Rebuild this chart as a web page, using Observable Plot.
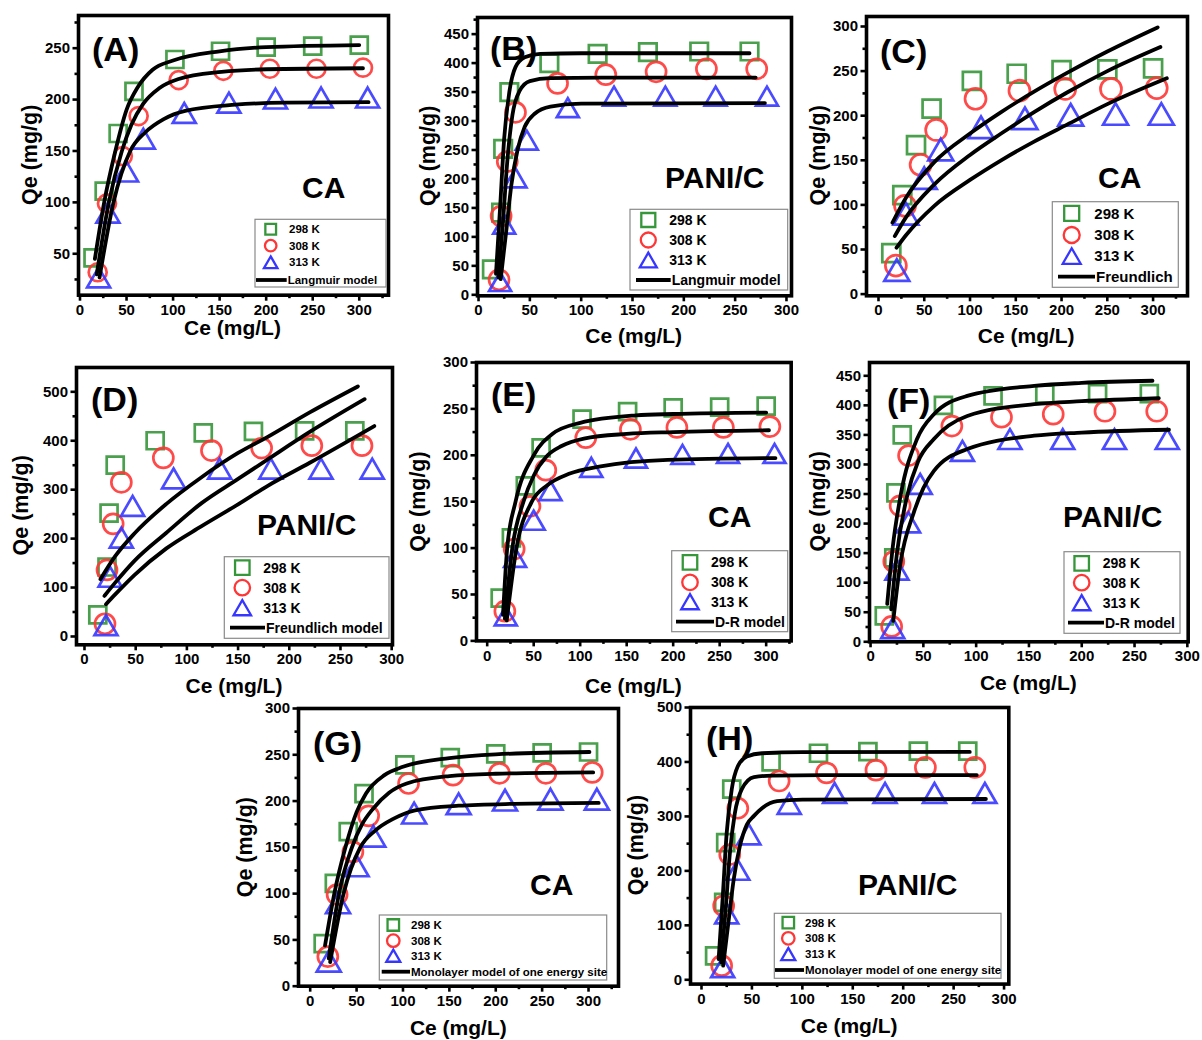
<!DOCTYPE html>
<html><head><meta charset="utf-8">
<script src="https://cdn.jsdelivr.net/npm/d3@7"></script>
<script src="https://cdn.jsdelivr.net/npm/@observablehq/plot@0.6"></script>
<style>
body{margin:0;background:#fff;}
#root{position:relative;width:1202px;height:1040px;overflow:hidden;background:#fff;}
#root svg{position:absolute;background:none !important;max-width:none !important;}
</style></head><body><div id="root"></div>
<script>
const temps = ["298 K", "308 K", "313 K"];
const tempColors = ["#36963a", "#ff3636", "#3636ff"];

// ---- experimental data: CA ----
const ceCA298 = [14, 26, 41, 58, 102, 151, 200, 250, 300];
const qeCA298 = [46, 111, 167, 208, 239, 247, 251, 252, 253];
const ceCA308 = [19, 29, 46, 63, 106, 154, 204, 254, 304];
const qeCA308 = [32, 99, 145, 184, 219, 228, 230, 230, 231];
const ceCA313 = [20, 30, 50, 68, 112, 160, 210, 259, 309];
const qeCA313 = [27, 90, 130, 162, 187, 197, 201, 202, 202];
// ---- experimental data: PANI/C ----
const cePC298 = [13, 22, 24, 30, 69, 116, 165, 215, 264];
const qePC298 = [44, 142, 252, 350, 400, 416, 419, 420, 420];
const cePC308 = [20, 22, 28, 36, 77, 124, 173, 222, 271];
const qePC308 = [26, 136, 230, 315, 365, 380, 385, 390, 390];
const cePC313 = [21, 25, 36, 47, 87, 132, 182, 231, 281];
const qePC313 = [23, 122, 202, 267, 323, 343, 343, 343, 343];

// ---- model curves ([Ce, Qe]) ----
const langCA298 = [[16,45],[26,100],[38,150],[50,190],[62,212],[78,229],[100,238],[150,247],[200,251],[300,253]];
const langCA308 = [[18,30],[31,100],[45,150],[55,175],[68,196],[85,211],[106,220],[152,227],[200,229.5],[304,230.5]];
const langCA313 = [[21,27],[36,100],[54,150],[70,168],[90,181],[113,189],[167,195],[220,197],[310,197.5]];

const langPC298 = [[17,36],[21,150],[25,270],[30,350],[36,393],[45,410],[60,416],[100,417],[264,417]];
const langPC308 = [[19.4,30],[24,130],[28,230],[33,310],[40,352],[50,369],[70,374],[120,375],[270,375]];
const langPC313 = [[21.6,27],[27,110],[32,190],[38,250],[45,290],[55,313],[70,325],[100,330],[279,331]];

const freuCA298 = [[15.3,80],[30,108],[61,148],[100,180],[134,204],[170,227],[206,248],[250,272],[305,299]];
const freuCA308 = [[17.8,65],[30,86],[61,123],[100,156],[134,180],[170,204],[206,226],[250,250],[308,277]];
const freuCA313 = [[19.7,52],[30,66],[61,99],[100,128],[134,150],[170,171],[206,190],[250,213],[315,242]];

const freuPC298 = [[15.6,117],[30,164],[49,211],[80,271],[114,325],[150,375],[179,408],[220,458],[267,511]];
const freuPC308 = [[19.5,83],[30,110],[49,155],[80,212],[114,272],[150,322],[179,362],[220,418],[273.6,485]];
const freuPC313 = [[21,66],[30,86],[49,126],[80,180],[114,225],[150,270],[179,308],[220,355],[283,430]];

const drCA298 = [[17,28],[21.5,100],[30.5,150],[50,200],[70,223],[100,235],[160,243],[200,244.5],[300,246]];
const drCA308 = [[19,24],[27,100],[39,150],[50,178],[64,199],[80,210],[104,218],[150,223],[200,225],[303,227]];
const drCA313 = [[21,22],[31.5,100],[48,150],[65,168],[88,180],[122,188],[194,195],[310,197]];

const drPC298 = [[15.8,64],[21,160],[28.4,247],[44,343],[60,385],[91.6,416],[155,433],[200,438],[267,441.6]];
const drPC308 = [[19.6,55],[25,150],[34.7,247],[45,305],[60,343],[91.6,382],[155,402],[200,407],[273,412]];
const drPC313 = [[21.5,35.5],[28,130],[41,219],[50,260],[60,289],[91.6,326],[155,348.6],[200,354],[282.6,358.7]];

const monoCA298 = [[16,44],[26,100],[38,150],[50,188],[60,208],[80,228],[100,237],[150,246.5],[200,250.5],[301,253]];
const monoCA308 = [[20,30],[31,100],[45,150],[56,175],[68,192],[85,209],[104,219],[150,227],[200,229.5],[305,231]];
const monoCA313 = [[21.5,26],[36,100],[54,150],[70,168],[90,181],[113,190],[160,195],[220,197],[311,198]];

const monoPC298 = [[17,38],[21,150],[25,270],[30,350],[36,392],[45,410],[60,416],[100,418],[266,418.5]];
const monoPC308 = [[19.5,32],[24,130],[28,230],[33,305],[40,350],[52,372],[70,375],[120,376],[273,376]];
const monoPC313 = [[21.5,26],[27,110],[32,185],[38,245],[45,285],[52,301],[60,315],[75,328],[100,331],[282,332]];

// ---- tick values ----
const xMajor = [0, 50, 100, 150, 200, 250, 300];
const xMinor = [25, 75, 125, 175, 225, 275, 325];
const yMajor50 = [0, 50, 100, 150, 200, 250, 300, 350, 400, 450];
const yMinor50 = [25, 75, 125, 175, 225, 275, 325, 375, 425, 475];
const yMajor100 = [0, 100, 200, 300, 400, 500];
const yMinor100 = [50, 150, 250, 350, 450];

const caPoints = [[ceCA298, qeCA298], [ceCA308, qeCA308], [ceCA313, qeCA313]];
const pcPoints = [[cePC298, qePC298], [cePC308, qePC308], [cePC313, qePC313]];

const panels = [
  {tag:"(A)", sample:"CA", model:"Langmuir model", pts:caPoints, curves:[langCA298,langCA308,langCA313],
   L:77.5,R:387.5,T:15,B:294.7, xd:[-1.6,331.4], yd:[9.7,281.8], yt:yMajor50, ym:yMinor50,
   tagPos:[92,61], samplePos:[302,198], xTitleY:335, yTitleX:37,
   lg:{box:[255,219.3,386,287], rows:[229.3,245.7,262.3,280], sx:270.7, tx:289, line:[256,286.7], fs:11.5, sym:[10.7,11.5,13.5]},
   mk:[17,18,23]},
  {tag:"(B)", sample:"PANI/C", model:"Langmuir model", pts:pcPoints, curves:[langPC298,langPC308,langPC313],
   L:476.7,R:790.7,T:16.7,B:295, xd:[-1,304.9], yd:[-1.7,478.7], yt:yMajor50, ym:yMinor50,
   tagPos:[490,60], samplePos:[665,188], xTitleY:343, yTitleX:435,
   lg:{box:[630,209.3,787.7,290], rows:[220,240,260,280], sx:648.3, tx:669.3, line:[636,670.7], fs:14, sym:[14,15,17]},
   mk:[17.5,20,22]},
  {tag:"(C)", sample:"CA", model:"Freundlich", pts:caPoints, curves:[freuCA298,freuCA308,freuCA313],
   L:865.7,R:1186.7,T:15.7,B:295, xd:[-13.1,337.6], yd:[-1.9,311.2], yt:yMajor50, ym:yMinor50,
   tagPos:[880,63], samplePos:[1098,188], xTitleY:343, yTitleX:825,
   lg:{box:[1052.3,201.7,1178.3,287.3], rows:[213.3,235,256,276.7], sx:1071.7, tx:1094.3, line:[1058,1095], fs:15, sym:[15,16,18]},
   mk:[18,21,25]},
  {tag:"(D)", sample:"PANI/C", model:"Freundlich model", pts:pcPoints, curves:[freuPC298,freuPC308,freuPC313],
   L:76,R:392,T:366.7,B:644, xd:[-7.8,300.8], yd:[-17,549.7], yt:yMajor100, ym:yMinor100,
   tagPos:[91,411], samplePos:[257,535], xTitleY:693, yTitleX:28,
   lg:{box:[224.3,556.7,389,638.3], rows:[567.7,587.7,607.7,627.7], sx:242.3, tx:263.3, line:[230,265], fs:14, sym:[14.5,15.5,17.5]},
   mk:[17,20,23]},
  {tag:"(E)", sample:"CA", model:"D-R model", pts:caPoints, curves:[drCA298,drCA308,drCA313],
   L:476,R:790.7,T:362.3,B:640.7, xd:[-11.5,326.9], yd:[0,300], yt:yMajor50, ym:yMinor50,
   tagPos:[491,406], samplePos:[708,527], xTitleY:693, yTitleX:425,
   lg:{box:[671.7,550.7,787.7,631.7], rows:[562.3,582.3,601.7,621.7], sx:690, tx:711, line:[676,714], fs:14, sym:[14.5,15.5,17.5]},
   mk:[17,20,22]},
  {tag:"(F)", sample:"PANI/C", model:"D-R model", pts:pcPoints, curves:[drPC298,drPC308,drPC313],
   L:869,R:1187.7,T:361.7,B:641, xd:[-1,300.8], yd:[0,472.5], yt:yMajor50, ym:yMinor50,
   tagPos:[887,412], samplePos:[1063,527], xTitleY:690, yTitleX:825,
   lg:{box:[1064,551.7,1180,633.3], rows:[563.3,582.7,602.7,622.7], sx:1081.7, tx:1102.7, line:[1068,1104], fs:14, sym:[14.5,15.5,17.5]},
   mk:[17,20,23]},
  {tag:"(G)", sample:"CA", model:"Monolayer model of one energy site", pts:caPoints, curves:[monoCA298,monoCA308,monoCA313],
   L:298.3,R:618.3,T:708.3,B:986, xd:[-12.6,332.3], yd:[0,300], yt:yMajor50, ym:yMinor50,
   tagPos:[313,755], samplePos:[530,895], xTitleY:1035, yTitleX:252,
   lg:{box:[379.3,915,606.7,980], rows:[925,940.7,955.7,971.7], sx:393.3, tx:411, line:[381.7,410], fs:11.5, sym:[11.5,12.5,14]},
   mk:[17,20,24]},
  {tag:"(H)", sample:"PANI/C", model:"Monolayer model of one energy site", pts:pcPoints, curves:[monoPC298,monoPC308,monoPC313],
   L:690,R:1008.3,T:706.7,B:983.3, xd:[-10.9,304.7], yd:[-7.9,500], yt:yMajor100, ym:yMinor100,
   tagPos:[706,750], samplePos:[858,895], xTitleY:1033, yTitleX:643,
   lg:{box:[774.3,913.3,1001,978.3], rows:[922.7,938.3,954,970], sx:788.3, tx:805, line:[775,804], fs:11.5, sym:[11.5,12.5,14]},
   mk:[17,20,23]}
];

const FONT = '"Liberation Sans", Arial, Helvetica, sans-serif';
const root = document.getElementById("root");
const ml = 60, mr = 14, mt = 14, mb = 50;
const inDom = (v, d) => v >= Math.min(d[0], d[1]) - 0.01 && v <= Math.max(d[0], d[1]) + 0.01;

for (const p of panels) {
  const w = p.R - p.L, h = p.B - p.T;
  const pointRows = temps.map((t, i) => p.pts[i][0].map((c, j) => ({ce: c, qe: p.pts[i][1][j], T: t})));
  const curveRows = temps.flatMap((t, i) => p.curves[i].map(([c, q]) => ({ce: c, qe: q, T: t})));
  const [sq, ci, tr] = p.mk;
  const svg = Plot.plot({
    width: w + ml + mr, height: h + mt + mb,
    marginLeft: ml, marginRight: mr, marginTop: mt, marginBottom: mb,
    x: {domain: p.xd}, y: {domain: p.yd},
    style: {fontFamily: FONT, fontWeight: "bold", fontSize: "15px", color: "black", background: "none", overflow: "visible"},
    marks: [
      Plot.axisX({ticks: xMajor.filter(v => inDom(v, p.xd)), tickSize: 6, tickPadding: 3, strokeWidth: 2.6, tickFormat: d => String(d), label: null}),
      Plot.axisX({ticks: xMinor.filter(v => inDom(v, p.xd)), tickSize: 3.5, strokeWidth: 2.6, tickFormat: () => "", label: null}),
      Plot.axisY({ticks: p.yt.filter(v => inDom(v, p.yd)), tickSize: 5.5, tickPadding: 3, strokeWidth: 2.6, tickFormat: d => String(d), label: null}),
      Plot.axisY({ticks: p.ym.filter(v => inDom(v, p.yd)), tickSize: 3.5, strokeWidth: 2.6, tickFormat: () => "", label: null}),
      Plot.dot(pointRows[0], {x: "ce", y: "qe", symbol: "square", r: sq / Math.sqrt(Math.PI), stroke: tempColors[0], strokeWidth: 2.7, fill: "none", strokeOpacity: 0.9}),
      Plot.dot(pointRows[1], {x: "ce", y: "qe", symbol: "circle", r: ci / 2, stroke: tempColors[1], strokeWidth: 2.7, fill: "none", strokeOpacity: 0.9}),
      Plot.dot(pointRows[2], {x: "ce", y: "qe", symbol: "triangle", r: tr * 0.3713, dy: tr * 0.144, stroke: tempColors[2], strokeWidth: 2.7, fill: "none", strokeOpacity: 0.9}),
      Plot.line(curveRows, {x: "ce", y: "qe", z: "T", stroke: "black", strokeWidth: 3.8, curve: "monotone-x"}),
      Plot.frame({stroke: "black", strokeWidth: 3.6})
    ]
  });
  svg.style.left = (p.L - ml) + "px";
  svg.style.top = (p.T - mt) + "px";
  root.appendChild(svg);
}

// ---- annotations overlay: titles, panel tags, sample names, legends ----
const ov = d3.select(root).append("svg")
  .attr("width", 1202).attr("height", 1040)
  .style("left", "0px").style("top", "0px")
  .attr("font-family", FONT).attr("font-weight", "bold");

const symTypes = [d3.symbolSquare, d3.symbolCircle, d3.symbolTriangle];
function symSize(k, s) {
  if (k === 0) return s * s;
  if (k === 1) return Math.PI * (s / 2) * (s / 2);
  return Math.sqrt(3) / 4 * s * s;
}

for (const p of panels) {
  const cx = (p.L + p.R) / 2, cy = (p.T + p.B) / 2;
  ov.append("text").attr("x", cx).attr("y", p.xTitleY).attr("text-anchor", "middle")
    .attr("font-size", 21).text("Ce (mg/L)");
  ov.append("text").attr("transform", `translate(${p.yTitleX},${cy}) rotate(-90)`).attr("text-anchor", "middle")
    .attr("font-size", 21.5).text("Qe (mg/g)");
  ov.append("text").attr("x", p.tagPos[0]).attr("y", p.tagPos[1]).attr("font-size", 34).text(p.tag);
  ov.append("text").attr("x", p.samplePos[0]).attr("y", p.samplePos[1]).attr("font-size", 30).text(p.sample);

  const g = p.lg;
  ov.append("rect").attr("x", g.box[0]).attr("y", g.box[1])
    .attr("width", g.box[2] - g.box[0]).attr("height", g.box[3] - g.box[1])
    .attr("fill", "white").attr("stroke", "#8a8a8a").attr("stroke-width", 1.2);
  temps.forEach((t, k) => {
    const s = g.sym[k];
    const off = k === 2 ? s * 0.144 : 0;
    ov.append("path").attr("d", d3.symbol().type(symTypes[k]).size(symSize(k, s))())
      .attr("transform", `translate(${g.sx},${g.rows[k] + off})`)
      .attr("fill", "none").attr("stroke", tempColors[k]).attr("stroke-width", 2.3);
    ov.append("text").attr("x", g.tx).attr("y", g.rows[k]).attr("dy", "0.36em")
      .attr("font-size", g.fs).text(t);
  });
  ov.append("line").attr("x1", g.line[0]).attr("x2", g.line[1]).attr("y1", g.rows[3]).attr("y2", g.rows[3])
    .attr("stroke", "black").attr("stroke-width", 3.8);
  ov.append("text").attr("x", g.line[1] + 1).attr("y", g.rows[3]).attr("dy", "0.36em")
    .attr("font-size", g.fs).text(p.model);
}
</script>
</body></html>
